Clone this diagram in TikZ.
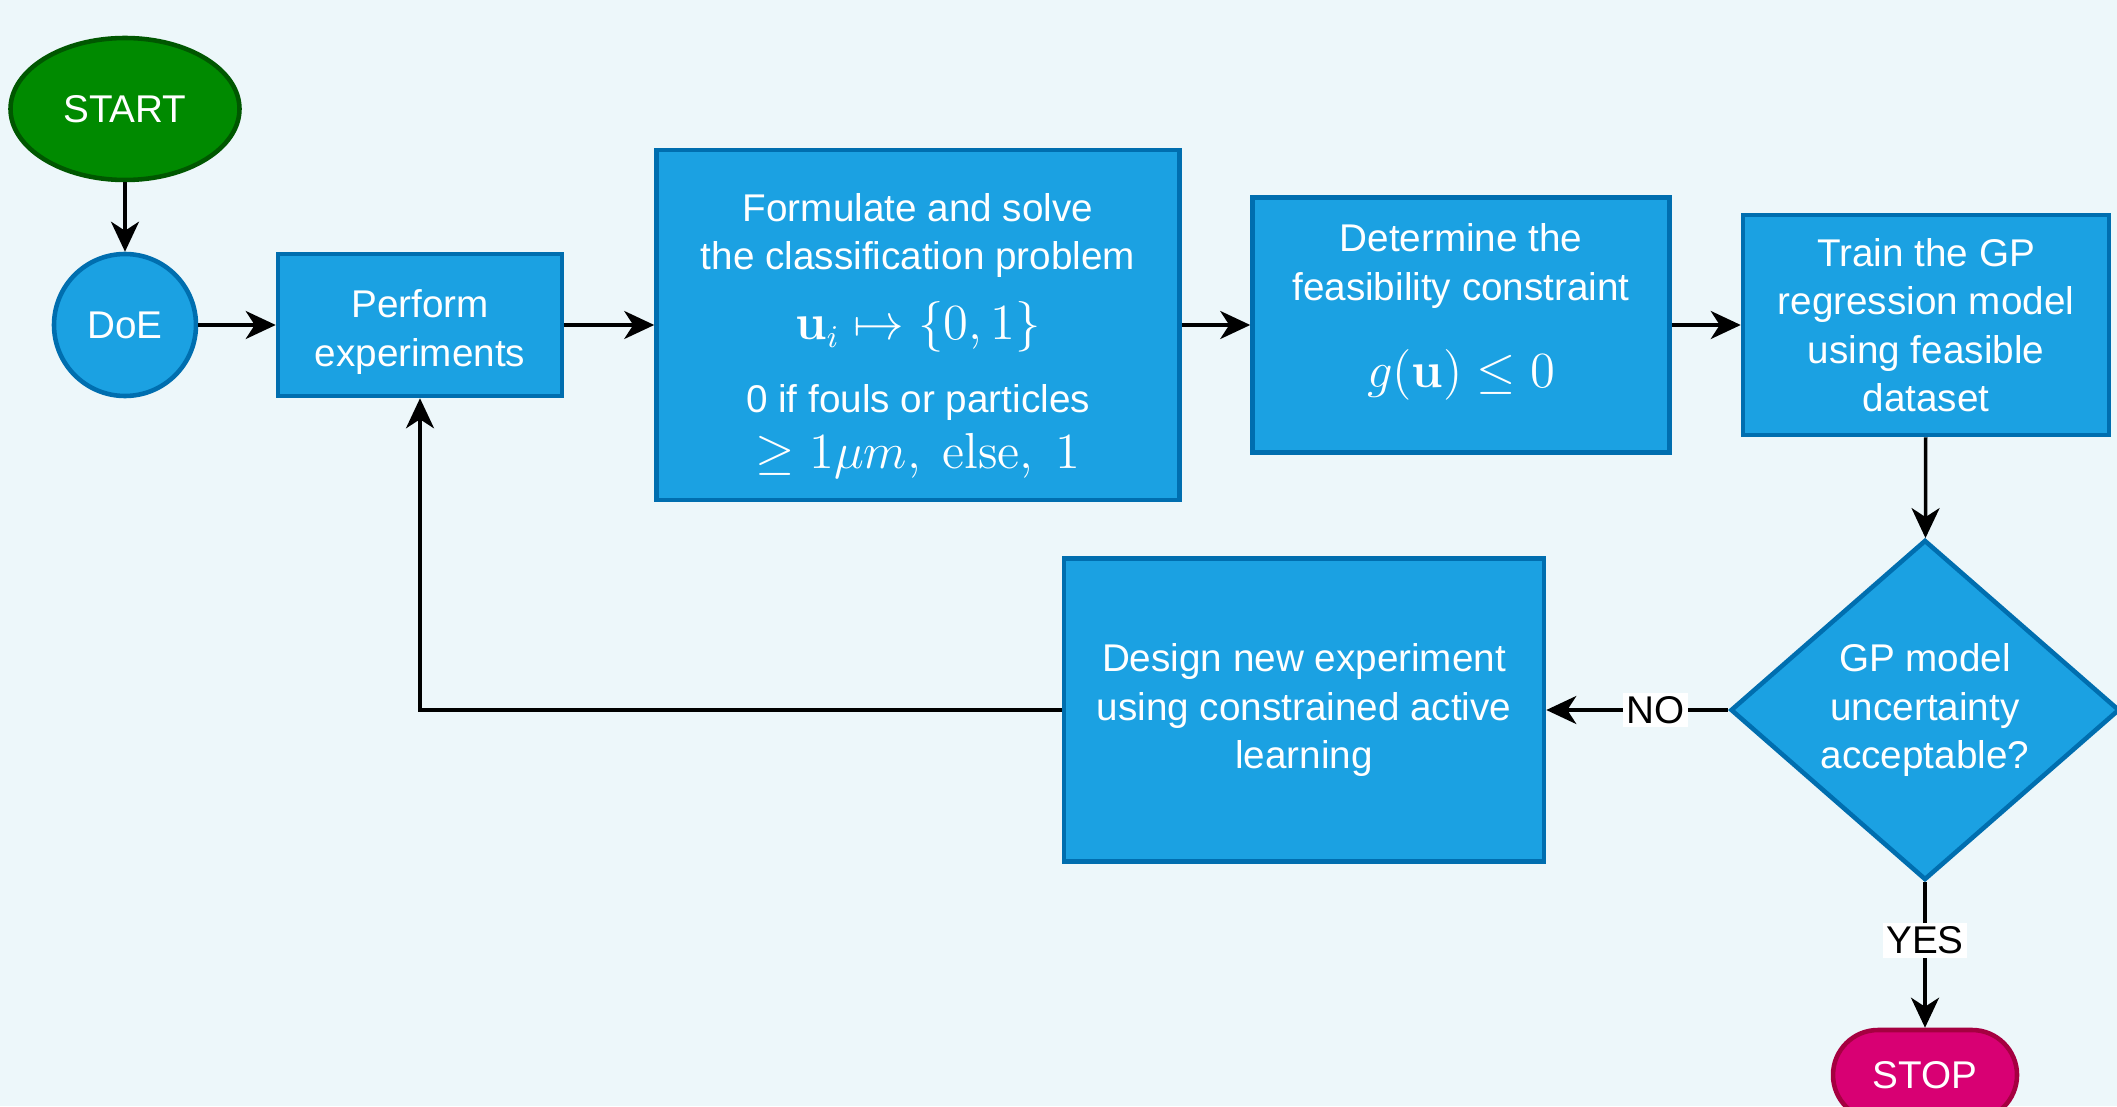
\documentclass[tikz,border=0pt]{standalone}
\usepackage{amsmath}
\usepackage[no-math]{fontspec}
\setmainfont{Liberation Sans}
\usetikzlibrary{shapes.geometric,arrows.meta}
\definecolor{bgc}{HTML}{EDF7FA}
\definecolor{boxfill}{HTML}{1BA1E2}
\definecolor{boxline}{HTML}{006EAF}
\definecolor{startfill}{HTML}{008A00}
\definecolor{startline}{HTML}{005700}
\definecolor{stopfill}{HTML}{D80073}
\definecolor{stopline}{HTML}{A50040}

\begin{document}
\begin{tikzpicture}[font=\fontsize{11}{13.8}\selectfont,
  bx/.style={draw=boxline,fill=boxfill,line width=1.3pt,text=white,align=center,inner sep=2pt},
  arr/.style={-{Stealth[length=3mm,width=2.8mm,inset=0.9mm]},line width=1pt},
  lbl/.style={fill=white,inner sep=1pt}]

\useasboundingbox (0,0) rectangle (21.17,-11.06);
\fill[bgc] (0,0) rectangle (21.17,-11.06);

% start / doe
\node[ellipse,draw=startline,fill=startfill,line width=1.3pt,text=white,minimum width=2.29cm,minimum height=1.42cm] (start) at (1.25,-1.09) {START};
\node[bx,circle,minimum size=1.42cm] (doe) at (1.25,-3.25) {DoE};

% top row
\node[bx,minimum width=2.84cm,minimum height=1.42cm] (perf) at (4.20,-3.25) {\rule{0pt}{12pt}Perform\\ experiments};
\node[bx,minimum width=5.23cm,minimum height=3.50cm] (form) at (9.18,-3.25)
  {\rule{0pt}{14pt}Formulate and solve\\ the classification problem\\[6pt]
   {\fontsize{13.5}{16}\selectfont$\mathbf{u}_i \mapsto \{0,1\}$}\\[7pt]
   0 if fouls or particles\\[2pt]
   {\fontsize{13.5}{16}\selectfont$\geq 1\mu m,\ \mathrm{else},\ 1$}};
\node[bx,minimum width=4.17cm,minimum height=2.55cm] (det) at (14.61,-3.25)
  {Determine the\\ feasibility constraint\\[11pt]
   {\fontsize{13.5}{16}\selectfont$g(\mathbf{u}) \leq 0$}\rule[-11pt]{0pt}{0pt}};
\node[bx,minimum width=3.66cm,minimum height=2.20cm] (train) at (19.26,-3.25)
  {Train the GP\\ regression model\\ using feasible\\ dataset};

% bottom row
\node[bx,diamond,aspect=1.14,inner sep=0pt,minimum width=3.89cm,minimum height=3.40cm] (chk) at (19.25,-7.10)
  {GP model\\ uncertainty\\ acceptable?};
\node[bx,minimum width=4.80cm,minimum height=3.03cm] (design) at (13.04,-7.10)
  {Design new experiment\\ using constrained active\\ learning};
\node[draw=stopline,fill=stopfill,line width=1.3pt,text=white,rounded corners=4.5mm,minimum width=1.84cm,minimum height=0.90cm] (stop) at (19.25,-10.75) {STOP};

% connectors
\draw[arr] (start) -- (doe);
\draw[arr] (doe) -- (perf);
\draw[arr] (perf) -- (form);
\draw[arr] (form) -- (det);
\draw[arr] (det) -- (train);
\draw[arr] (train) -- (chk);
\draw[arr] (chk) -- node[lbl,pos=0.4] {NO} (design);
\draw[arr] (chk) -- node[lbl,pos=0.4] {YES} (stop);
\draw[arr] (design.west) -| (perf.south);
\end{tikzpicture}
\end{document}
